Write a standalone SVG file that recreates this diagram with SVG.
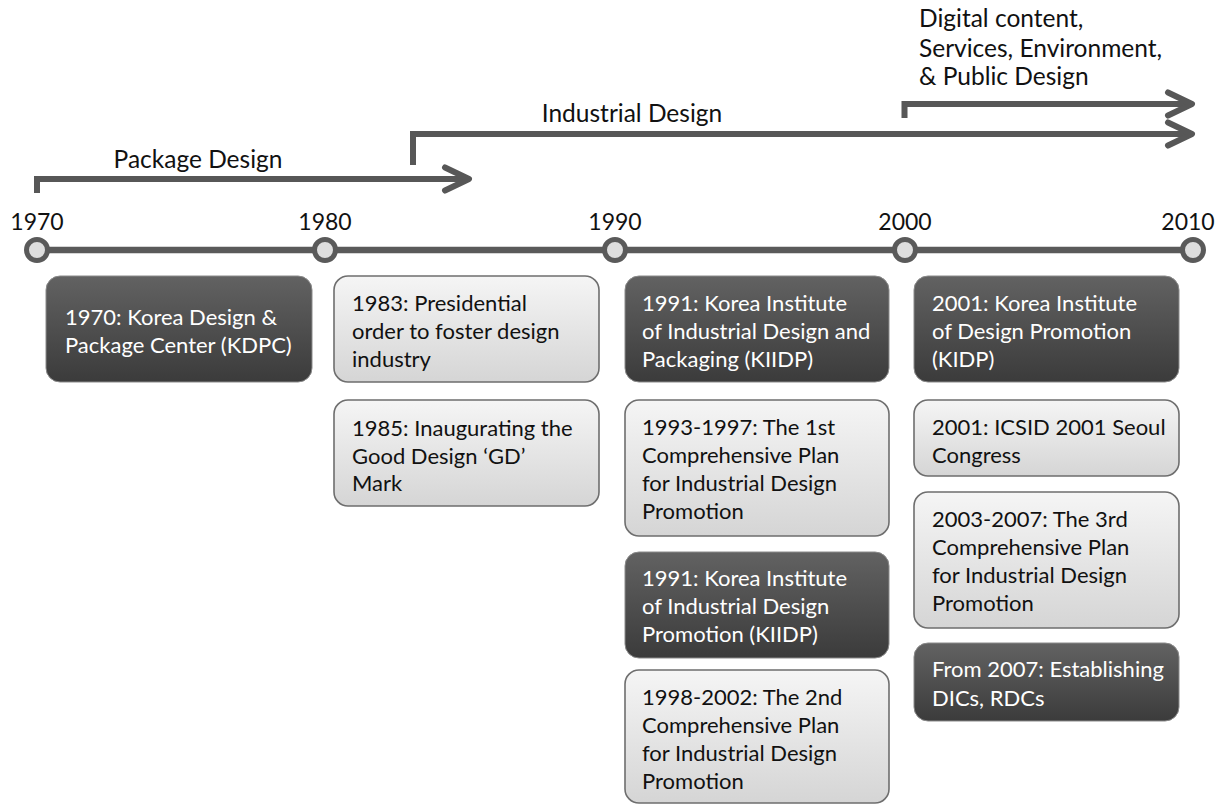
<svg xmlns="http://www.w3.org/2000/svg" width="1227" height="805" viewBox="0 0 1227 805">
<style>
text{font-family:Lato,"Open Sans",sans-serif;}
.yr{font-size:23px;fill:#111;text-anchor:middle;}
.lbl{font-size:24.5px;fill:#111;}
.bt{font-size:22px;}
.dk{fill:url(#gDark);stroke:#8a8a8a;stroke-width:1;}
.lt{fill:url(#gLight);stroke:#6e6e6e;stroke-width:1.6;}
.dkt{fill:#fff;}
.ltt{fill:#111;}
.arr{fill:none;stroke:#575757;stroke-width:6;stroke-linejoin:miter;marker-end:url(#chev);}
.tl{stroke:#5a5a5a;stroke-width:6.5;}
.dot{fill:#dedede;stroke:#5a5a5a;stroke-width:5;}
</style>
<defs>
<linearGradient id="gDark" x1="0" y1="0" x2="0" y2="1"><stop offset="0" stop-color="#626262"/><stop offset="1" stop-color="#3b3b3b"/></linearGradient>
<linearGradient id="gLight" x1="0" y1="0" x2="0" y2="1"><stop offset="0" stop-color="#f5f5f5"/><stop offset="1" stop-color="#d5d5d5"/></linearGradient>
<marker id="chev" markerUnits="userSpaceOnUse" viewBox="-4 -4 34 32" refX="21" refY="11.5" markerWidth="34" markerHeight="32" orient="auto">
<path d="M0,0 L24,11.5 L0,23" fill="none" stroke="#575757" stroke-width="6" stroke-linecap="round" stroke-linejoin="round"/>
</marker>
</defs>
<g id="connectors">
<polyline class="arr" points="37,193 37,179 466,179"/>
<polyline class="arr" points="413,165 413,134 1189,134"/>
<polyline class="arr" points="904.5,118 904.5,104 1189,104"/>
</g>
<g id="eras">
<text class="lbl" x="198" y="168" text-anchor="middle">Package Design</text>
<text class="lbl" x="632" y="122" text-anchor="middle">Industrial Design</text>
<text class="lbl" x="919" y="27">Digital content,</text>
<text class="lbl" x="919" y="57">Services, Environment,</text>
<text class="lbl" x="919" y="85">&amp; Public Design</text>
</g>
<g id="timeline">
<line class="tl" x1="37" y1="250" x2="1193" y2="250"/>
<circle class="dot" cx="37" cy="250" r="10.5"/>
<circle class="dot" cx="325" cy="250" r="10.5"/>
<circle class="dot" cx="615" cy="250" r="10.5"/>
<circle class="dot" cx="905" cy="250" r="10.5"/>
<circle class="dot" cx="1193" cy="250" r="10.5"/>
<text class="yr" x="37" y="230">1970</text>
<text class="yr" x="325" y="230">1980</text>
<text class="yr" x="615" y="230">1990</text>
<text class="yr" x="905" y="230">2000</text>
<text class="yr" x="1188" y="230">2010</text>
</g>
<g id="n1970">
<rect class="dk" x="46" y="276" width="266" height="106" rx="14"/>
<text class="bt dkt" x="65" y="325">1970: Korea Design &amp;</text>
<text class="bt dkt" x="65" y="353">Package Center (KDPC)</text>
</g>
<g id="n1983">
<rect class="lt" x="334" y="276" width="265" height="106" rx="14"/>
<text class="bt ltt" x="352" y="311">1983: Presidential</text>
<text class="bt ltt" x="352" y="339">order to foster design</text>
<text class="bt ltt" x="352" y="367">industry</text>
</g>
<g id="n1985">
<rect class="lt" x="334" y="400" width="265" height="106" rx="14"/>
<text class="bt ltt" x="352" y="436">1985: Inaugurating the</text>
<text class="bt ltt" x="352" y="464">Good Design ‘GD’</text>
<text class="bt ltt" x="352" y="491">Mark</text>
</g>
<g id="n1991a">
<rect class="dk" x="625" y="276" width="264" height="106" rx="14"/>
<text class="bt dkt" x="642" y="311">1991: Korea Institute</text>
<text class="bt dkt" x="642" y="339">of Industrial Design and</text>
<text class="bt dkt" x="642" y="367">Packaging (KIIDP)</text>
</g>
<g id="n1993">
<rect class="lt" x="625" y="400" width="264" height="136" rx="14"/>
<text class="bt ltt" x="642" y="435">1993-1997: The 1st</text>
<text class="bt ltt" x="642" y="463">Comprehensive Plan</text>
<text class="bt ltt" x="642" y="491">for Industrial Design</text>
<text class="bt ltt" x="642" y="519">Promotion</text>
</g>
<g id="n1991b">
<rect class="dk" x="625" y="552" width="264" height="106" rx="14"/>
<text class="bt dkt" x="642" y="586">1991: Korea Institute</text>
<text class="bt dkt" x="642" y="614">of Industrial Design</text>
<text class="bt dkt" x="642" y="642">Promotion (KIIDP)</text>
</g>
<g id="n1998">
<rect class="lt" x="625" y="670" width="264" height="133" rx="14"/>
<text class="bt ltt" x="642" y="705">1998-2002: The 2nd</text>
<text class="bt ltt" x="642" y="733">Comprehensive Plan</text>
<text class="bt ltt" x="642" y="761">for Industrial Design</text>
<text class="bt ltt" x="642" y="789">Promotion</text>
</g>
<g id="n2001a">
<rect class="dk" x="914" y="276" width="265" height="106" rx="14"/>
<text class="bt dkt" x="932" y="311">2001: Korea Institute</text>
<text class="bt dkt" x="932" y="339">of Design Promotion</text>
<text class="bt dkt" x="932" y="367">(KIDP)</text>
</g>
<g id="n2001b">
<rect class="lt" x="914" y="400" width="265" height="76" rx="14"/>
<text class="bt ltt" x="932" y="435">2001: ICSID 2001  Seoul</text>
<text class="bt ltt" x="932" y="463">Congress</text>
</g>
<g id="n2003">
<rect class="lt" x="914" y="492" width="265" height="136" rx="14"/>
<text class="bt ltt" x="932" y="527">2003-2007: The 3rd</text>
<text class="bt ltt" x="932" y="555">Comprehensive Plan</text>
<text class="bt ltt" x="932" y="583">for Industrial Design</text>
<text class="bt ltt" x="932" y="611">Promotion</text>
</g>
<g id="n2007">
<rect class="dk" x="914" y="643" width="265" height="78" rx="14"/>
<text class="bt dkt" x="932" y="677">From 2007: Establishing</text>
<text class="bt dkt" x="932" y="706">DICs, RDCs</text>
</g>
</svg>
